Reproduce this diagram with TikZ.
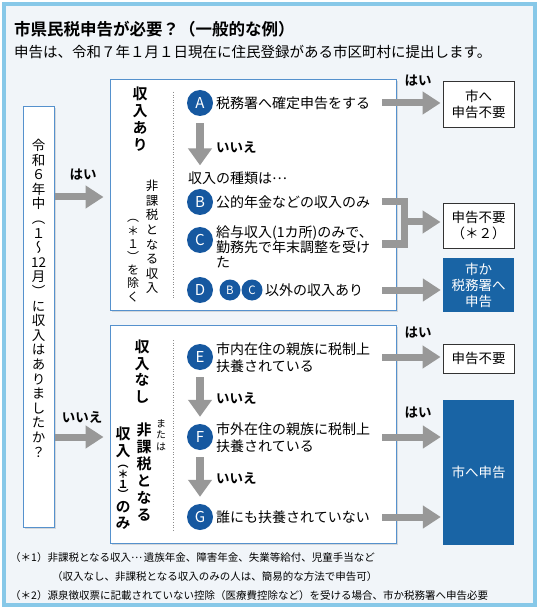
\documentclass[tikz,border=0pt]{standalone}
\usepackage{fontspec}
\setmainfont{Noto Sans CJK JP}[BoldFont={Noto Sans CJK JP Bold}]
\newfontfamily\vjp{Noto Sans CJK JP}[RawFeature=+vert,BoldFont={Noto Sans CJK JP Bold}]
\usetikzlibrary{positioning,arrows.meta,shadows,calc}
\definecolor{framecol}{RGB}{135,200,232}
\definecolor{bgcol}{RGB}{241,245,249}
\definecolor{boxcol}{RGB}{85,145,205}
\definecolor{navycol}{RGB}{25,100,165}
\definecolor{dotcol}{RGB}{22,88,160}
\definecolor{arrcol}{RGB}{152,152,152}
\newcommand{\cdotsjp}{\raisebox{0.3em}{…}\hspace{0.15em}}

\begin{document}
\begin{tikzpicture}[x=1pt,y=-1pt,
  every node/.style={font=\fontsize{14}{16}\selectfont},
  bigbox/.style={rectangle, draw=boxcol, line width=1pt, fill=white,
                 drop shadow={shadow xshift=1.5pt, shadow yshift=-1.5pt, opacity=0.25}},
  res/.style={rectangle, draw=black!80, line width=0.9pt, fill=white, align=center,
              minimum width=71pt, inner sep=0pt, font=\fontsize{13.5}{16}\selectfont},
  resdark/.style={rectangle, fill=navycol, text=white, align=center,
              minimum width=71pt, inner sep=0pt, font=\fontsize{13.5}{16}\selectfont},
  lett/.style={circle, fill=dotcol, text=white, minimum size=26pt, inner sep=0pt,
               font=\fontsize{15}{15}\selectfont},
  slett/.style={circle, fill=dotcol, text=white, minimum size=21pt, inner sep=0pt,
               font=\fontsize{11.5}{11.5}\selectfont},
  txt/.style={anchor=west, inner sep=0pt, align=left},
  vcol/.style={align=center, inner sep=0pt, anchor=north},
  lbl/.style={inner sep=0pt, font=\fontsize{13.5}{14}\selectfont\bfseries},
  blk/.style={draw=arrcol, line width=7pt, -{Triangle[width=22pt,length=18pt]}},
  darr/.style={draw=arrcol, line width=8pt, -{Triangle[width=23pt,length=17pt]}},
  bar/.style={draw=arrcol, line width=7pt, line join=miter},
  dotline/.style={draw=black!45, line width=0.8pt, dash pattern=on 1pt off 1.6pt}
]
\useasboundingbox (0,0) rectangle (539,609);
% frame and titles
\draw[framecol, line width=3.5pt, fill=bgcol] (4,4) rectangle (535,605);
\node[txt, font=\fontsize{16.5}{18}\selectfont\bfseries] (title) at (14,29) {市県民税申告が必要？（一般的な例）};
\node[txt, font=\fontsize{14.5}{16}\selectfont] (sub) at (14,52) {申告は、令和７年１月１日現在に住民登録がある市区町村に提出します。};

% question box
\node[bigbox, minimum width=31pt, minimum height=420pt, inner sep=0pt] (qbox) at (38.5,317) {};
\node[vcol, font=\vjp\fontsize{13.5}{14.6}\selectfont] (qtext) at (38.5,139)
  {令\\和\\６\\年\\中\\（\\１\\～\\12\\月\\）\\に\\収\\入\\は\\あ\\り\\ま\\し\\た\\か\\？};

% the two branch boxes
\node[bigbox, minimum width=286pt, minimum height=230pt, inner sep=0pt] (upbox) at (253,195) {};
\node[bigbox, minimum width=286pt, minimum height=218pt, inner sep=0pt] (lobox) at (253,434) {};

\draw[blk] (qbox.east |- 0,197) -- ([xshift=-6pt]upbox.west |- 0,197);
\draw[blk] (qbox.east |- 0,437) -- ([xshift=-6pt]lobox.west |- 0,437);
\node[lbl] (yesL) at (83,175) {はい};
\node[lbl] (noL) at (82,417) {いいえ};

% upper box: income
\node[vcol, font=\vjp\fontsize{15}{16.8}\selectfont\bfseries] (hasinc) at (140,87) {収\\入\\あ\\り};
\node[vcol, font=\vjp\fontsize{12.5}{14.6}\selectfont] (excl1) at (152,180) {非\\課\\税\\と\\な\\る\\収\\入};
\node[vcol, anchor=south, font=\vjp\fontsize{12}{13.2}\selectfont] (excl2) at (133,302)
  {（\\＊\\１\\）\\を\\除\\く};
\draw[dotline] (173,92) -- (173,300);

\node[lett] (cA) at (200,103) {A};
\node[txt] (tA) at (216,103) {税務署へ確定申告をする};
\node[lbl, anchor=west] (noA) at (216,147) {いいえ};
\node[txt] (kind) at (188,178) {収入の種類は\cdotsjp};
\node[lett] (cB) at (200,202) {B};
\node[txt] (tB) at (216,202) {公的年金などの収入のみ};
\node[lett] (cC) at (200,240) {C};
\node[txt, font=\fontsize{14}{15}\selectfont] (tC) at (216,247) {給与収入(1カ所)のみで、\\勤務先で年末調整を受け\\た};
\node[lett] (cD) at (200,290) {D};
\node[slett] (sB) at (230,290) {B};
\node[slett] (sC) at (252,290) {C};
\node[txt] (tD) at (265,290) {以外の収入あり};

\draw[darr] ([yshift=-7pt]cA.south) -- ([yshift=6pt]cA.south |- kind.north);

% lower box: no income
\node[vcol, font=\vjp\fontsize{15}{16.4}\selectfont\bfseries] (noinc) at (142,340) {収\\入\\な\\し};
\node[vcol, font=\vjp\fontsize{10}{11.5}\selectfont] (orL) at (161,419) {ま\\た\\は};
\node[vcol, font=\vjp\fontsize{15}{17}\selectfont\bfseries] (ntax) at (144,423) {非\\課\\税\\と\\な\\る};
\node[vcol, font=\vjp\fontsize{15}{16.4}\selectfont\bfseries] (ntinc) at (123,427)
  {収\\入\\[-5pt]{\fontsize{11}{11}\selectfont （}\\[-6pt]{\fontsize{11}{11}\selectfont ＊}\\[-6pt]{\fontsize{11}{11}\selectfont １}\\[-6pt]{\fontsize{11}{11}\selectfont ）}\\[-3pt]の\\み};
\draw[dotline] (173,340) -- (173,532);

\node[lett] (cE) at (200,357) {E};
\node[txt, font=\fontsize{14}{16.5}\selectfont] (tE) at (216,357.5) {市内在住の親族に税制上\\扶養されている};
\node[lett] (cF) at (200,437) {F};
\node[txt, font=\fontsize{14}{16.5}\selectfont] (tF) at (216,437.5) {市外在住の親族に税制上\\扶養されている};
\node[lett] (cG) at (200,517) {G};
\node[txt] (tG) at (216,517) {誰にも扶養されていない};
\node[lbl, anchor=west] (noE) at (216,398) {いいえ};
\node[lbl, anchor=west] (noF) at (216,478) {いいえ};

\draw[darr] ([yshift=-7pt]cE.south) -- ([yshift=7pt]cF.north);
\draw[darr] ([yshift=-7pt]cF.south) -- ([yshift=7pt]cG.north);

% results
\node[res, minimum height=46pt] (res1) at (478.5,104) {市へ\\申告不要};
\node[res, minimum height=45pt] (res2) at (478.5,225.5) {申告不要\\（＊２）};
\node[resdark, minimum height=54pt] (res3) at (478.5,285) {市か\\税務署へ\\申告};
\node[res, minimum height=29pt] (res4) at (478.5,358.5) {申告不要};
\node[resdark, minimum height=145pt] (res5) at (478.5,472.5) {市へ申告};

\node[lbl] (yesA) at (418,81) {はい};
\node[lbl] (yesE) at (418,333) {はい};
\node[lbl] (yesF) at (418,413) {はい};

\coordinate (rx) at (382,0);
\coordinate (bk) at (404,244);
\coordinate (bm) at (404,222);
\draw[blk] (tA.east -| rx) -- ([xshift=-2pt]tA.east -| res1.west);
\draw[bar] (tB.east -| rx) -| (bk) -- (bk -| rx);
\draw[blk] (bm) -- ([xshift=-2pt]bm -| res2.west);
\draw[blk] (tD.east -| rx) -- ([xshift=-2pt]tD.east -| res3.west);
\draw[blk] (cE -| rx) -- ([xshift=-2pt]cE -| res4.west);
\draw[blk] (cF -| rx) -- ([xshift=-2pt]cF -| res5.west);
\draw[blk] (cG -| rx) -- ([xshift=-2pt]cG -| res5.west);

% notes
\node[txt, font=\fontsize{10.5}{12}\selectfont] (note1) at (10,558) {（＊1）非課税となる収入\cdotsjp 遺族年金、障害年金、失業等給付、児童手当など};
\node[txt, font=\fontsize{10.5}{12}\selectfont] (note2) at (52,577) {（収入なし、非課税となる収入のみの人は、簡易的な方法で申告可）};
\node[txt, font=\fontsize{10.5}{12}\selectfont] (note3) at (10,596) {（＊2）源泉徴収票に記載されていない控除（医療費控除など）を受ける場合、市か税務署へ申告必要};
\end{tikzpicture}
\end{document}
